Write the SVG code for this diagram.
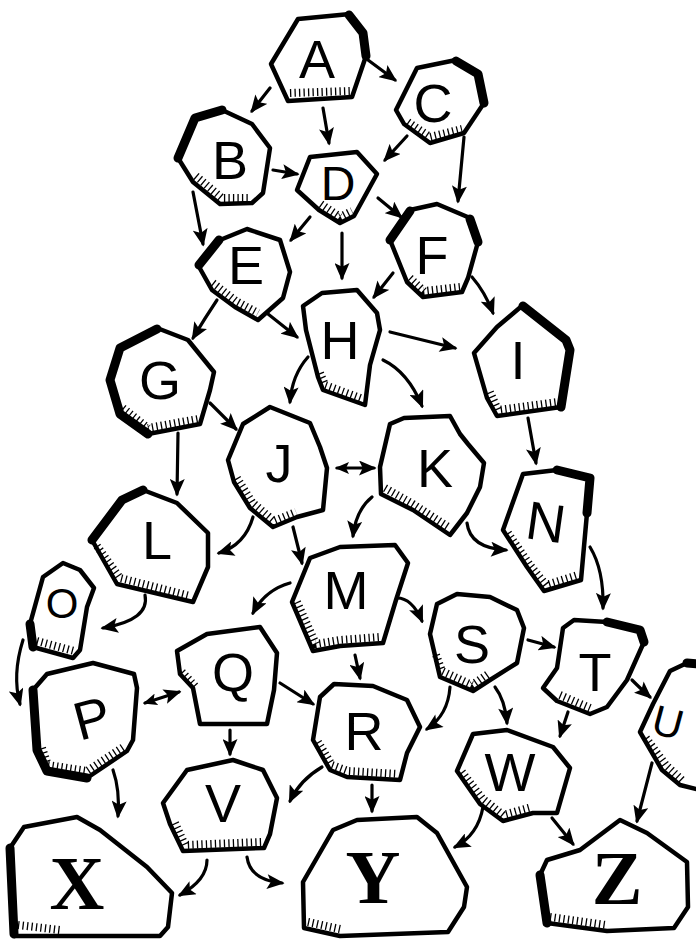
<svg xmlns="http://www.w3.org/2000/svg" width="696" height="939" viewBox="0 0 696 939">
<style>
.rock{fill:#fff;stroke:#000;stroke-width:4.5;stroke-linejoin:round}
.shade{fill:none;stroke:#000;stroke-width:9;stroke-linejoin:round;stroke-linecap:round}
.hatch{fill:none;stroke:#000;stroke-width:8;stroke-dasharray:1.3 3.2}
.lt{font-family:"Liberation Sans","DejaVu Sans",sans-serif;font-size:54px;text-anchor:middle;fill:#000}
.big{font-family:"Liberation Serif","DejaVu Serif",serif;font-weight:bold;font-size:76px;text-anchor:middle;fill:#000}
.arr{fill:none;stroke:#000;stroke-width:3.2;stroke-linecap:round;marker-end:url(#ah)}
.both{marker-start:url(#ahs)}
</style>
<defs>
<marker id="ah" viewBox="0 0 14 12" refX="12" refY="6" markerWidth="18" markerHeight="15" markerUnits="userSpaceOnUse" orient="auto"><path d="M0,0 L14,6 L0,12 L3,6 Z" fill="#000"/></marker>
<marker id="ahs" viewBox="0 0 14 12" refX="2" refY="6" markerWidth="14" markerHeight="12" markerUnits="userSpaceOnUse" orient="auto"><path d="M14,0 L0,6 L14,12 L11,6 Z" fill="#000"/></marker>
</defs>
<rect width="696" height="939" fill="#fff"/>
<g id="connectors">
<path class="arr" d="M270,88 L252,111"/>
<path class="arr" d="M323,108 L329,143"/>
<path class="arr" d="M368,60 L395,80"/>
<path class="arr" d="M407,136 L385,160"/>
<path class="arr" d="M464,137 L458,201"/>
<path class="arr" d="M273,170 L297,174"/>
<path class="arr" d="M193,192 L203,244"/>
<path class="arr" d="M310,217 L291,240"/>
<path class="arr" d="M342,233 L342,278"/>
<path class="arr" d="M378,198 L401,217"/>
<path class="arr" d="M393,273 L374,297"/>
<path class="arr" d="M472,277 Q485,292 493,313"/>
<path class="arr" d="M217,300 Q205,318 193,338"/>
<path class="arr" d="M263,310 L297,337"/>
<path class="arr" d="M390,332 L455,348"/>
<path class="arr" d="M308,357 Q292,375 290,402"/>
<path class="arr" d="M383,360 Q408,372 422,406"/>
<path class="arr" d="M210,403 L236,429"/>
<path class="arr" d="M178,433 L177,494"/>
<path class="arr both" d="M337,468 L374,468"/>
<path class="arr" d="M372,497 Q356,510 353,536"/>
<path class="arr" d="M253,517 Q245,545 219,553"/>
<path class="arr" d="M293,527 L302,563"/>
<path class="arr" d="M528,418 L536,463"/>
<path class="arr" d="M467,523 Q470,548 506,550"/>
<path class="arr" d="M590,547 Q604,570 603,608"/>
<path class="arr" d="M290,583 Q265,590 253,613"/>
<path class="arr" d="M397,598 Q412,598 422,621"/>
<path class="arr" d="M355,655 L360,678"/>
<path class="arr" d="M145,595 Q150,620 103,628"/>
<path class="arr" d="M23,640 Q12,675 20,704"/>
<path class="arr both" d="M145,703 L179,692"/>
<path class="arr" d="M280,683 L313,704"/>
<path class="arr" d="M230,730 L230,754"/>
<path class="arr" d="M113,770 Q120,790 118,816"/>
<path class="arr" d="M322,767 Q300,780 290,801"/>
<path class="arr" d="M207,860 Q207,880 180,895"/>
<path class="arr" d="M247,857 Q250,880 282,883"/>
<path class="arr" d="M372,785 L372,811"/>
<path class="arr" d="M450,687 Q448,715 427,729"/>
<path class="arr" d="M495,687 Q505,700 507,723"/>
<path class="arr" d="M528,640 L554,647"/>
<path class="arr" d="M568,712 L560,736"/>
<path class="arr" d="M632,680 Q642,690 650,697"/>
<path class="arr" d="M652,763 L637,821"/>
<path class="arr" d="M483,807 Q478,835 455,847"/>
<path class="arr" d="M552,818 L573,844"/>
</g>
<g id="node-A"><polygon class="rock" points="298,19 350,14 364,33 366,56 352,97 288,101 271,64"/><polyline class="shade" points="349,15 363,33 366,56"/><polyline class="hatch" points="290,93 350,91"/><text class="lt" x="317" y="78">A</text></g>
<g id="node-B"><polygon class="rock" points="178,158 196,118 222,110 252,124 270,148 263,193 252,203 220,204 193,182"/><polyline class="shade" points="178,158 195,118 222,110"/><polyline class="hatch" points="196,176 222,198 250,198"/><text class="lt" x="230" y="179">B</text></g>
<g id="node-C"><polygon class="rock" points="396,110 417,68 456,60 478,73 484,103 464,133 430,143 404,124"/><polyline class="shade" points="456,61 478,74 484,103"/><polyline class="hatch" points="408,122 430,137 462,129"/><text class="lt" x="433" y="122">C</text></g>
<g id="node-D"><polygon class="rock" points="297,190 310,157 357,152 377,174 354,216 340,223 319,210"/><polyline class="hatch" points="321,204 340,217 352,211"/><text class="lt" x="338" y="200" style="font-size:48px">D</text></g>
<g id="node-E"><polygon class="rock" points="198,265 220,240 247,229 280,240 290,272 283,298 258,320 235,307 212,290"/><polyline class="shade" points="199,265 219,240"/><polyline class="hatch" points="213,283 236,301 258,313"/><text class="lt" x="246" y="284">E</text></g>
<g id="node-F"><polygon class="rock" points="390,240 410,210 437,204 470,218 478,242 468,278 462,292 423,297 407,282"/><polyline class="shade" points="390,240 410,211"/><polyline class="shade" points="470,219 478,242"/><polyline class="hatch" points="410,278 424,291 460,287"/><text class="lt" x="432" y="274">F</text></g>
<g id="node-G"><polygon class="rock" points="110,380 120,348 157,328 188,340 214,372 210,390 200,424 148,434 120,414"/><polyline class="shade" points="157,329 120,348 110,380 120,414 148,434"/><polyline class="hatch" points="123,408 148,428 198,419"/><text class="lt" x="160" y="399">G</text></g>
<g id="node-H"><polygon class="rock" points="303,306 322,293 357,290 377,313 380,330 370,365 365,405 323,390 318,377 306,330"/><polyline class="hatch" points="320,373 325,385 363,399"/><text class="lt" x="340" y="359">H</text></g>
<g id="node-I"><polygon class="rock" points="474,353 497,327 523,305 566,340 570,350 561,407 497,416 487,398"/><polyline class="shade" points="523,306 566,340 570,350 561,407"/><polyline class="hatch" points="490,392 498,410 558,402"/><text class="lt" x="518" y="379">I</text></g>
<g id="node-J"><polygon class="rock" points="228,460 243,424 270,407 310,423 320,447 327,468 323,510 297,517 273,527 250,508 234,482"/><polyline class="hatch" points="237,478 252,502 274,521 296,512"/><text class="lt" x="279" y="482">J</text></g>
<g id="node-K"><polygon class="rock" points="380,467 390,424 404,418 450,416 460,434 468,444 484,463 480,487 467,513 450,535 413,510 381,494"/><polyline class="hatch" points="385,488 413,504 450,528"/><text class="lt" x="435" y="487">K</text></g>
<g id="node-L"><polygon class="rock" points="92,540 122,500 143,490 177,503 208,533 208,567 193,602 117,584"/><polyline class="shade" points="92,540 122,500 143,490"/><polyline class="hatch" points="97,546 120,578 190,596"/><text class="lt" x="157" y="559">L</text></g>
<g id="node-M"><polygon class="rock" points="292,602 310,558 340,547 395,545 408,563 396,600 383,643 340,646 313,651"/><polyline class="hatch" points="297,602 316,644 340,640 380,637"/><text class="lt" x="346" y="609">M</text></g>
<g id="node-N"><polygon class="rock" points="503,530 523,474 557,470 590,477 587,513 581,580 544,591 527,567"/><polyline class="shade" points="557,470 590,478 587,513"/><polyline class="hatch" points="508,533 530,565 546,585 578,575"/><text class="lt" x="546" y="541" transform="rotate(8 546 522)">N</text></g>
<g id="node-O"><polygon class="rock" points="30,624 43,577 63,563 80,570 94,588 87,607 80,650 73,658 33,647"/><polyline class="shade" points="30,624 33,647"/><polyline class="hatch" points="37,641 74,651"/><text class="lt" x="62" y="618" style="font-size:42px">O</text></g>
<g id="node-P"><polygon class="rock" points="33,690 47,674 93,663 134,674 137,688 133,740 127,751 87,778 47,771 37,750"/><polyline class="shade" points="33,690 37,750 47,771 87,778"/><polyline class="hatch" points="42,748 48,765 87,771 125,746"/><text class="lt" x="92" y="737" transform="rotate(-15 92 718)">P</text></g>
<g id="node-Q"><polygon class="rock" points="177,651 207,634 260,627 277,653 274,690 267,724 200,724 193,688 180,674"/><polyline class="hatch" points="182,672 196,687"/><text class="lt" x="233" y="691">Q</text></g>
<g id="node-R"><polygon class="rock" points="313,740 320,697 334,684 373,686 407,700 420,727 407,753 400,780 347,777 330,770"/><polyline class="hatch" points="318,742 332,765 348,771 398,774"/><text class="lt" x="364" y="750">R</text></g>
<g id="node-S"><polygon class="rock" points="430,634 437,604 457,594 490,597 517,610 524,628 517,663 490,680 473,691 440,677"/><polyline class="hatch" points="436,655 442,671 472,685 488,674"/><text class="lt" x="472" y="663">S</text></g>
<g id="node-T"><polygon class="rock" points="543,688 557,668 563,628 574,620 607,622 640,630 644,642 627,680 607,707 590,714 557,701"/><polyline class="shade" points="607,622 640,630 644,642"/><polyline class="hatch" points="560,695 590,708"/><text class="lt" x="595" y="691">T</text></g>
<g id="node-U"><polygon class="rock" points="640,732 653,704 670,671 687,663 700,664 700,790 680,785 662,770"/><polyline class="shade" points="687,663 700,664"/><polyline class="hatch" points="646,738 666,765 682,780"/><text class="lt" x="668" y="737" style="font-size:42px" transform="rotate(15 668 722)">U</text></g>
<g id="node-V"><polygon class="rock" points="163,803 187,770 233,760 263,770 277,798 270,834 264,848 183,851 170,824"/><polyline class="hatch" points="175,823 185,845 262,842"/><text class="lt" x="223" y="822">V</text></g>
<g id="node-W"><polygon class="rock" points="457,771 473,734 507,730 553,747 570,768 557,813 533,813 503,821 480,804"/><polyline class="hatch" points="462,772 482,798 503,815 532,807"/><text class="lt" x="510" y="791">W</text></g>
<g id="node-X"><polygon class="rock" points="10,848 24,827 77,817 100,830 147,867 172,893 168,927 160,936 14,936"/><polyline class="shade" points="10,848 14,934"/><polyline class="hatch" points="18,925 60,930"/><text class="big" x="77" y="909">X</text></g>
<g id="node-Y"><polygon class="rock" points="303,882 333,830 357,820 417,817 437,833 467,887 464,907 448,932 340,936 304,928"/><polyline class="hatch" points="308,922 340,929"/><text class="big" x="373" y="903">Y</text></g>
<g id="node-Z"><polygon class="rock" points="540,875 547,860 580,850 620,820 647,833 687,862 688,907 674,928 607,931 547,923"/><polyline class="shade" points="540,875 547,923"/><polyline class="hatch" points="550,917 606,925"/><text class="big" x="617" y="904">Z</text></g>
</svg>
